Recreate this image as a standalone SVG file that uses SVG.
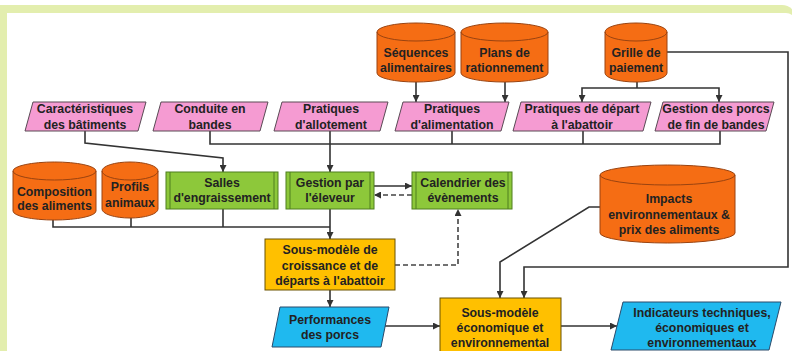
<svg xmlns="http://www.w3.org/2000/svg" width="792" height="351" viewBox="0 0 792 351">
<defs>
<marker id="ah" markerUnits="userSpaceOnUse" markerWidth="8" markerHeight="7" refX="7" refY="3.5" orient="auto">
<path d="M0,0 L7,3.5 L0,7 z" fill="#333"/>
</marker>
<style>
.t{font-family:"Liberation Sans",Arial,sans-serif;font-weight:bold;font-size:12.3px;text-anchor:middle;fill:#222}
.pink{fill:#f59bd2;stroke:#5a4a55;stroke-width:1}
.blue{fill:#1fb9ef;stroke:#2a4a6a;stroke-width:1}
.cyl{fill:#f56d14;stroke:#9a4310;stroke-width:1}
.cyltop{fill:none;stroke:#9a4310;stroke-width:1}
.green{fill:#8dc83a;stroke:#4f7f1f;stroke-width:1}
.gline{stroke:#4f7f1f;stroke-width:1}
.yellow{fill:#ffc000;stroke:#6b5200;stroke-width:1}
.c{fill:none;stroke:#333;stroke-width:1.6}
.d{fill:none;stroke:#444;stroke-width:1.6;stroke-dasharray:5,3}
</style>
</defs>
<path d="M0,5 H782 A14,14 0 0 1 796,19 V351 H0 Z" fill="#e3eeae"/>
<path d="M7,13 H786 A10,10 0 0 1 796,23 V351 H7 Z" fill="#fff"/>

<g id="connectors">
<path class="c" d="M85,131 V143 L223,158 V172" marker-end="url(#ah)"/>
<path class="c" d="M210,131 V144 H720 V131"/>
<path class="c" d="M452,131 V144"/>
<path class="c" d="M583,131 V144"/>
<path class="c" d="M330,131 V172" marker-end="url(#ah)"/>
<path class="c" d="M416,82 V102" marker-end="url(#ah)"/>
<path class="c" d="M505,80 V102" marker-end="url(#ah)"/>
<path class="c" d="M637,82 V88"/>
<path class="c" d="M637,88 H582 V102" marker-end="url(#ah)"/>
<path class="c" d="M637,88 H719 V102" marker-end="url(#ah)"/>
<path class="c" d="M667,52 H788 V267 H524 V298" marker-end="url(#ah)"/>
<path class="c" d="M600,207 H589 L500,262 V298" marker-end="url(#ah)"/>
<path class="c" d="M374,186 H412" marker-end="url(#ah)"/>
<path class="d" d="M412,195 H374" marker-end="url(#ah)"/>
<path class="d" d="M395,265 H458 V209" marker-end="url(#ah)"/>
<path class="c" d="M53,220 V227 H330"/>
<path class="c" d="M131,218 V227"/>
<path class="c" d="M223,209 V227"/>
<path class="c" d="M330,209 V239" marker-end="url(#ah)"/>
<path class="c" d="M330,290 V307" marker-end="url(#ah)"/>
<path class="c" d="M385,326 H440" marker-end="url(#ah)"/>
<path class="c" d="M561,326 H617" marker-end="url(#ah)"/>
</g>

<g id="sequences">
<path class="cyl" d="M377,32 A39,9 0 0 1 455,32 V73 A39,9 0 0 1 377,73 Z"/>
<path class="cyltop" d="M377,32 A39,9 0 0 0 455,32"/>
<text class="t" x="416" y="57">Séquences</text>
<text class="t" x="416" y="72">alimentaires</text>
</g>
<g id="plans">
<path class="cyl" d="M461,32 A43.5,9 0 0 1 548,32 V73 A43.5,9 0 0 1 461,73 Z"/>
<path class="cyltop" d="M461,32 A43.5,9 0 0 0 548,32"/>
<text class="t" x="504.5" y="57">Plans de</text>
<text class="t" x="504.5" y="72">rationnement</text>
</g>
<g id="grille">
<path class="cyl" d="M605,32 A31,9 0 0 1 667,32 V73 A31,9 0 0 1 605,73 Z"/>
<path class="cyltop" d="M605,32 A31,9 0 0 0 667,32"/>
<text class="t" x="636" y="57">Grille de</text>
<text class="t" x="636" y="72">paiement</text>
</g>

<g id="caracteristiques">
<polygon class="pink" points="33,102 146,102 138,131 25,131"/>
<text class="t" x="85" y="113">Caractéristiques</text>
<text class="t" x="85" y="129">des bâtiments</text>
</g>
<g id="conduite">
<polygon class="pink" points="161,102 268,102 260,131 153,131"/>
<text class="t" x="210" y="113">Conduite en</text>
<text class="t" x="210" y="129">bandes</text>
</g>
<g id="allotement">
<polygon class="pink" points="282,102 388,102 380,131 274,131"/>
<text class="t" x="331" y="113">Pratiques</text>
<text class="t" x="331" y="129">d'allotement</text>
</g>
<g id="alimentation">
<polygon class="pink" points="403,102 509,102 501,131 395,131"/>
<text class="t" x="452" y="113">Pratiques</text>
<text class="t" x="452" y="129">d'alimentation</text>
</g>
<g id="depart">
<polygon class="pink" points="521,102 651,102 643,131 513,131"/>
<text class="t" x="582" y="113">Pratiques de départ</text>
<text class="t" x="582" y="129">à l'abattoir</text>
</g>
<g id="finbandes">
<polygon class="pink" points="663,102 774,102 766,131 655,131"/>
<text class="t" x="716" y="113">Gestion des porcs</text>
<text class="t" x="716" y="129">de fin de bandes</text>
</g>

<g id="composition">
<path class="cyl" d="M13,171 A41.5,9 0 0 1 96,171 V211 A41.5,9 0 0 1 13,211 Z"/>
<path class="cyltop" d="M13,171 A41.5,9 0 0 0 96,171"/>
<text class="t" x="54.5" y="196">Composition</text>
<text class="t" x="54.5" y="210">des aliments</text>
</g>
<g id="profils">
<path class="cyl" d="M102,171 A28,9 0 0 1 158,171 V209 A28,9 0 0 1 102,209 Z"/>
<path class="cyltop" d="M102,171 A28,9 0 0 0 158,171"/>
<text class="t" x="130" y="191">Profils</text>
<text class="t" x="130" y="207">animaux</text>
</g>

<g id="salles">
<rect class="green" x="166" y="172" width="112" height="37"/>
<line class="gline" x1="170" y1="172" x2="170" y2="209"/>
<line class="gline" x1="274" y1="172" x2="274" y2="209"/>
<text class="t" x="222" y="187">Salles</text>
<text class="t" x="222" y="202">d'engraissement</text>
</g>
<g id="gestion">
<rect class="green" x="286" y="172" width="88" height="37"/>
<line class="gline" x1="290" y1="172" x2="290" y2="209"/>
<line class="gline" x1="370" y1="172" x2="370" y2="209"/>
<text class="t" x="330" y="187">Gestion par</text>
<text class="t" x="330" y="202">l'éleveur</text>
</g>
<g id="calendrier">
<rect class="green" x="412" y="172" width="100" height="37"/>
<line class="gline" x1="416" y1="172" x2="416" y2="209"/>
<line class="gline" x1="508" y1="172" x2="508" y2="209"/>
<text class="t" x="463" y="187">Calendrier des</text>
<text class="t" x="463" y="202">évènements</text>
</g>

<g id="impacts">
<path class="cyl" d="M600,175 A67.5,10 0 0 1 735,175 V233 A67.5,10 0 0 1 600,233 Z"/>
<path class="cyltop" d="M600,175 A67.5,10 0 0 0 735,175"/>
<text class="t" x="669" y="203">Impacts</text>
<text class="t" x="669" y="219">environnementaux &amp;</text>
<text class="t" x="669" y="234">prix des aliments</text>
</g>

<g id="croissance">
<rect class="yellow" x="265" y="239" width="130" height="51"/>
<text class="t" x="330" y="254">Sous-modèle de</text>
<text class="t" x="330" y="270">croissance et de</text>
<text class="t" x="330" y="285">départs à l'abattoir</text>
</g>

<g id="performances">
<polygon class="blue" points="280,307 389,307 381,347 272,347"/>
<text class="t" x="330" y="324">Performances</text>
<text class="t" x="330" y="339">des porcs</text>
</g>

<g id="economique">
<rect class="yellow" x="440" y="298" width="121" height="62"/>
<text class="t" x="500" y="317">Sous-modèle</text>
<text class="t" x="500" y="332">économique et</text>
<text class="t" x="500" y="347">environnemental</text>
</g>

<g id="indicateurs">
<polygon class="blue" points="623,302 781,302 769,350 611,350"/>
<text class="t" x="702" y="317">Indicateurs techniques,</text>
<text class="t" x="702" y="332">économiques et</text>
<text class="t" x="702" y="347">environnementaux</text>
</g>
</svg>
